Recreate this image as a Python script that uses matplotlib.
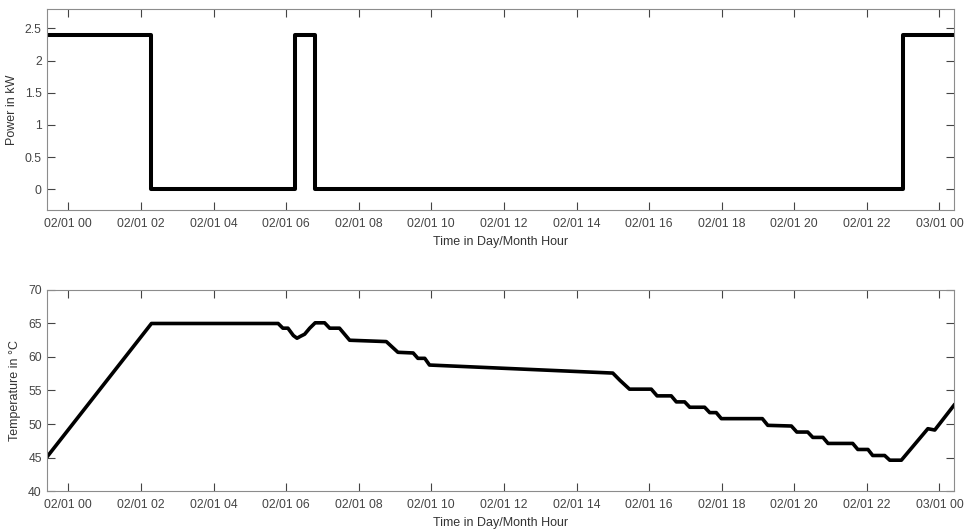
import numpy as np
import pandas as pd
import matplotlib
matplotlib.use('Agg')
import matplotlib.pyplot as plt
import matplotlib.dates as mdates

plt.rcParams['font.family'] = ['Liberation Sans', 'DejaVu Sans']

# hours relative to 02/01 00:00
power_hours = [-0.6, 2.27, 6.24, 6.79, 23.0, 24.4]
power_kw = [2.4, 0.0, 2.4, 0.0, 2.4, 2.4]

temp_hours = [-0.6, 2.29, 5.78, 5.91, 6.05, 6.2, 6.3, 6.4, 6.51, 6.65, 6.8, 7.06, 7.2, 7.47,
              7.75, 8.76, 9.08, 9.5, 9.63, 9.82, 9.95, 15.0, 15.2, 15.46, 16.06, 16.22,
              16.61, 16.75, 16.98, 17.12, 17.53, 17.67, 17.85, 17.99, 19.12, 19.27, 19.92,
              20.07, 20.37, 20.51, 20.79, 20.93, 21.61, 21.75, 22.03, 22.16, 22.49, 22.63,
              22.95, 23.68, 23.87, 24.4]
temp_c = [45.0, 65.0, 65.0, 64.3, 64.3, 63.2, 62.8, 63.1, 63.4, 64.3, 65.1, 65.1, 64.3, 64.3,
          62.5, 62.3, 60.7, 60.6, 59.8, 59.8, 58.8, 57.6, 56.5, 55.2, 55.2, 54.2,
          54.2, 53.3, 53.3, 52.5, 52.5, 51.7, 51.7, 50.8, 50.8, 49.8, 49.7,
          48.8, 48.8, 48.0, 48.0, 47.1, 47.1, 46.2, 46.2, 45.3, 45.3, 44.6,
          44.6, 49.3, 49.1, 52.8]

t0 = pd.Timestamp('2021-01-02 00:00')
pt = t0 + pd.to_timedelta(power_hours, unit='h')
tt = t0 + pd.to_timedelta(temp_hours, unit='h')

fig = plt.figure(figsize=(9.7, 5.31), dpi=100)
ax1 = fig.add_axes([0.048, 0.6045, 0.9355, 0.3785])
ax2 = fig.add_axes([0.048, 0.0753, 0.9355, 0.3786])

ax1.plot(pt, power_kw, color='black', lw=2.9, drawstyle='steps-post')
ax2.plot(tt, temp_c, color='black', lw=2.6)

xmin = t0 + pd.Timedelta(hours=-0.6)
xmax = t0 + pd.Timedelta(hours=24.4)
for ax in (ax1, ax2):
    ax.set_xlim(xmin, xmax)
    ax.xaxis.set_major_locator(mdates.HourLocator(byhour=range(0, 24, 2)))
    ax.xaxis.set_major_formatter(mdates.DateFormatter('%d/%m %H'))
    ax.tick_params(direction='in', length=5.5, width=0.8, colors='#444444',
                   labelsize=8.7, top=True, right=True)
    ax.tick_params(axis='x', pad=6)
    ax.tick_params(axis='y', pad=3.5)
    for s in ax.spines.values():
        s.set_color('#8c8c8c')
        s.set_linewidth(0.8)
    ax.set_xlabel('Time in Day/Month Hour', fontsize=9, color='#333333', labelpad=4)

ax1.set_ylim(-0.32, 2.8)
ax1.set_yticks([0, 0.5, 1, 1.5, 2, 2.5])
ax1.set_yticklabels(['0', '0.5', '1', '1.5', '2', '2.5'])
ax1.set_ylabel('Power in kW', fontsize=9, color='#333333', labelpad=5)

ax2.set_ylim(40, 70)
ax2.set_yticks([40, 45, 50, 55, 60, 65, 70])
ax2.set_ylabel('Temperature in °C', fontsize=9, color='#333333', labelpad=5)

fig.savefig('out.png', dpi=100)
